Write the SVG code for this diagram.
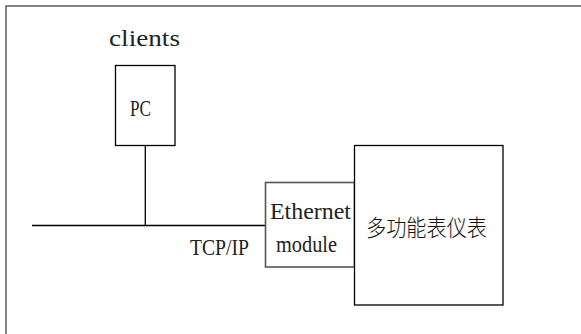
<svg xmlns="http://www.w3.org/2000/svg" width="581" height="334" viewBox="0 0 581 334">
<style>
.box{fill:#fff;stroke:#000;stroke-width:1.3}
.gbox{fill:#fff;stroke:#555;stroke-width:1.6}
.line{stroke:#000;stroke-width:1.3;fill:none}
.t{font-family:"Liberation Serif","Noto Sans CJK SC",serif;font-size:24px;fill:#222}
.cjk{font-family:"Noto Sans CJK SC",sans-serif;font-size:23px;font-weight:300;fill:#111}
</style>
<rect x="0" y="0" width="581" height="334" fill="#fff"/>
<rect x="6" y="6" width="640" height="400" fill="none" stroke="#444" stroke-width="1.3"/>
<g id="connectors">
<line class="line" x1="145.3" y1="145.5" x2="145.3" y2="225.5"/>
<line class="line" x1="32" y1="225.5" x2="265.5" y2="225.5"/>
</g>
<g id="clients-label">
<text class="t" x="109" y="46" textLength="71" lengthAdjust="spacingAndGlyphs">clients</text>
</g>
<g id="pc">
<rect class="box" x="115.5" y="65.5" width="59.5" height="80"/>
<text class="t" x="130" y="116" textLength="21" lengthAdjust="spacingAndGlyphs">PC</text>
</g>
<g id="tcpip-label">
<text class="t" x="190" y="255" textLength="59" lengthAdjust="spacingAndGlyphs">TCP/IP</text>
</g>
<g id="ethernet-module">
<rect class="gbox" x="265.5" y="182.5" width="89" height="84.5"/>
<text class="t" x="270" y="219" textLength="81" lengthAdjust="spacingAndGlyphs">Ethernet</text>
<text class="t" x="276" y="252" textLength="61" lengthAdjust="spacingAndGlyphs">module</text>
</g>
<g id="meter">
<rect class="box" x="354.5" y="145.5" width="148.5" height="159.5"/>
<text class="cjk" x="366" y="236" textLength="121" lengthAdjust="spacingAndGlyphs">多功能表仪表</text>
</g>
</svg>
